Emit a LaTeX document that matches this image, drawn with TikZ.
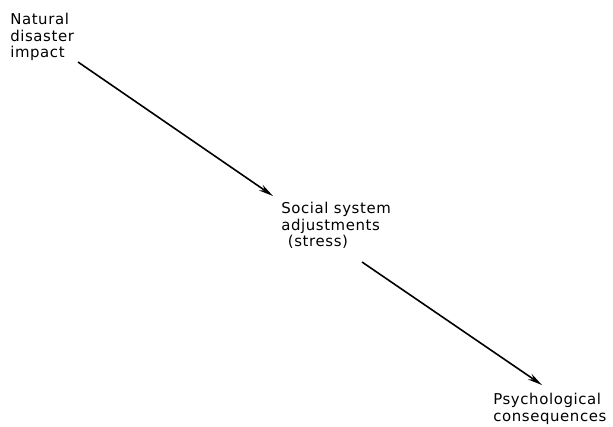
\documentclass[tikz,border=0pt]{standalone}
\usepackage{fontspec}
\setmainfont[LetterSpace=4]{DejaVu Sans}
\usetikzlibrary{arrows.meta}
\begin{document}
\begin{tikzpicture}[x=0.75pt,y=-0.75pt,
  lbl/.style={anchor=north west,inner sep=0pt,align=left,
    font=\fontsize{11.2pt}{12.4pt}\selectfont},
  arr/.style={line width=1.2pt,-{Stealth[length=11pt,width=5pt]}}]
\useasboundingbox (0,0) rectangle (613,426);
\node[lbl] (a) at (10,13) {Natural\\disaster\\impact};
\node[lbl] (b) at (281,202) {Social system\\adjustments\\\hspace{5pt}(stress)};
\node[lbl] (c) at (493,393) {Psychological\\consequences};
\coordinate (a1) at (78,62);
\coordinate (b1) at (273,196);
\coordinate (b2) at (362,262);
\coordinate (c1) at (542,385);
\draw[arr] (a1) -- (b1);
\draw[arr] (b2) -- (c1);
\end{tikzpicture}
\end{document}
